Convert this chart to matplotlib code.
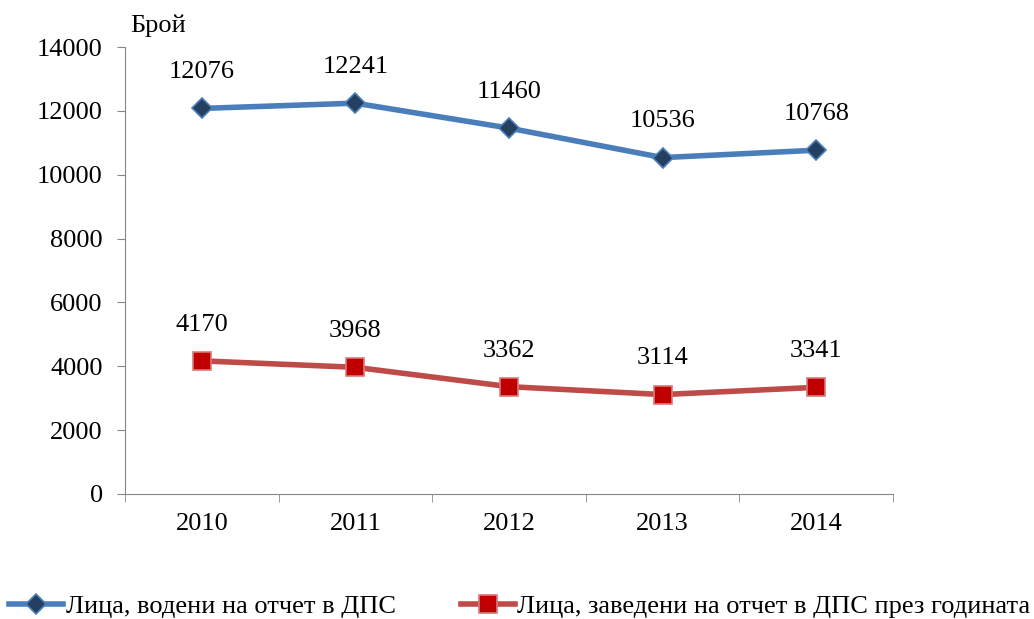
import matplotlib
matplotlib.use("Agg")
import matplotlib.pyplot as plt
import numpy as np

years = ["2010", "2011", "2012", "2013", "2014"]
kept = [12076, 12241, 11460, 10536, 10768]
entered = [4170, 3968, 3362, 3114, 3341]
label_kept = "Лица, водени на отчет в ДПС"
label_entered = "Лица, заведени на отчет в ДПС през годината"

plt.rcParams['font.family'] = ['Liberation Serif', 'DejaVu Serif']
plt.rcParams['font.size'] = 19

fig = plt.figure(figsize=(10.34, 6.19), dpi=100)
ax = fig.add_axes([125/1034, 1 - 494/619, 768/1034, 447/619])

x = np.arange(len(years))
ax.plot(x, kept, color="#4a7ebb", lw=4, marker="D", ms=10,
        mfc="#243f60", mec="#4a7ebb", mew=1.2, label=label_kept)
ax.plot(x, entered, color="#be4b48", lw=4, marker="s", ms=13,
        mfc="#c00000", mec="#d97a78", mew=1.2, label=label_entered)

for xi, v in zip(x, kept):
    ax.annotate(str(v), (xi, v), xytext=(0, 26), textcoords="offset points",
                ha="center", va="center")
for xi, v in zip(x, entered):
    ax.annotate(str(v), (xi, v), xytext=(0, 26), textcoords="offset points",
                ha="center", va="center")

ax.set_xlim(-0.5, 4.5)
ax.set_ylim(0, 14000)
ax.set_yticks(range(0, 14001, 2000))
ax.set_xticks(x)
ax.set_xticklabels(years)
ax.set_xticks(np.arange(-0.5, 5, 1), minor=True)
ax.tick_params(axis="x", which="major", length=0, pad=14)
ax.tick_params(axis="x", which="minor", length=6, color="#868686")
ax.tick_params(axis="y", length=6, color="#868686", pad=10)
for s in ["top", "right"]:
    ax.spines[s].set_visible(False)
for s in ["left", "bottom"]:
    ax.spines[s].set_color("#868686")

fig.text(130/1034, 1 - 26/619, "Брой", ha="left", va="center")

fig.legend(loc="center left", bbox_to_anchor=(0.0, 1 - 606/619), ncol=2,
           frameon=False, handlelength=2.05, handletextpad=0.1, columnspacing=2.45,
           borderaxespad=0, borderpad=0.35)

fig.savefig("out.png", dpi=100)
